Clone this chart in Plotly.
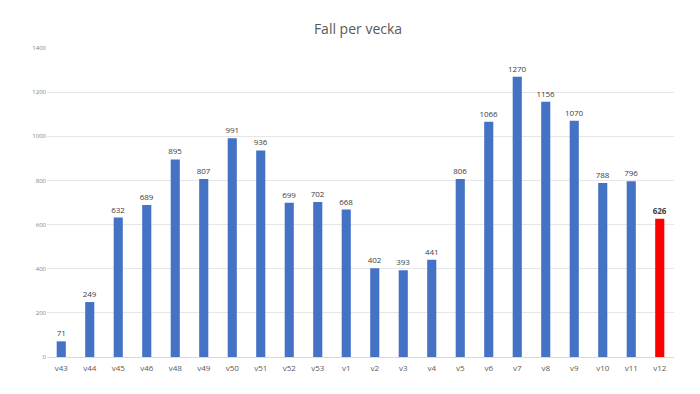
import plotly.graph_objects as go

weeks = ["v43", "v44", "v45", "v46", "v48", "v49", "v50", "v51", "v52", "v53",
         "v1", "v2", "v3", "v4", "v5", "v6", "v7", "v8", "v9", "v10", "v11", "v12"]
cases = [71, 249, 632, 689, 895, 807, 991, 936, 699, 702,
         668, 402, 393, 441, 806, 1066, 1270, 1156, 1070, 788, 796, 626]
y_ticks = [0, 200, 400, 600, 800, 1000, 1200, 1400]

colors = ["#4472C4"] * (len(weeks) - 1) + ["#FF0000"]
labels = [str(v) for v in cases[:-1]] + ["<b>%d</b>" % cases[-1]]

fig = go.Figure(go.Bar(
    x=weeks, y=cases,
    marker=dict(color=colors, line=dict(width=0)),
    text=labels, textposition="outside", constraintext="none",
    textfont=dict(family="Open Sans, sans-serif", size=8, color="#404040"),
    cliponaxis=False,
))

fig.update_layout(
    width=700, height=394,
    margin=dict(l=39, r=34, t=40, b=45),
    paper_bgcolor="white", plot_bgcolor="white",
    bargap=0.68,
    showlegend=False,
    title=dict(text="Fall per vecka", x=0.5, xanchor="center", y=0.946, yanchor="middle",
               font=dict(family="Open Sans, sans-serif", size=14, color="#595959")),
    xaxis=dict(type="category", showgrid=False, showline=True, linecolor="#D9D9D9",
               ticks="", ticklabelstandoff=3,
               tickfont=dict(family="Open Sans, sans-serif", size=8, color="#595959")),
    yaxis=dict(range=[0, 1400], tickvals=y_ticks, showgrid=True, gridcolor="#E6E6E6",
               zeroline=False, showline=False, ticks="",
               tickfont=dict(family="Open Sans, sans-serif", size=6, color="#7F7F7F")),
)

fig.write_html("out.html")
